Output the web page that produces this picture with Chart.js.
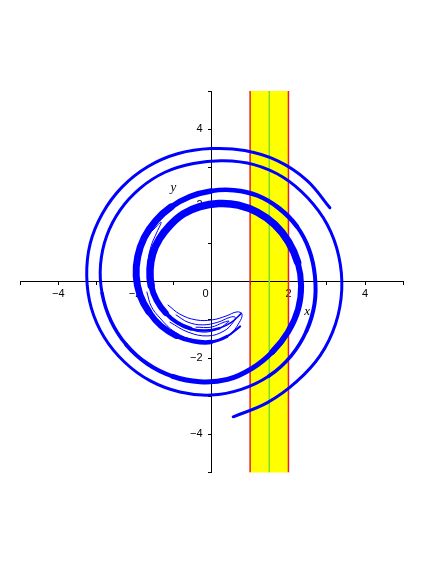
<!DOCTYPE html>
<html><head><meta charset="utf-8">
<script src="https://cdn.jsdelivr.net/npm/chart.js@4/dist/chart.umd.min.js"></script>
<style>html,body{margin:0;padding:0;background:#fff}#wrap{width:436px;height:564px;position:relative}</style>
</head><body><div id="wrap"><canvas id="c"></canvas></div>
<script>
// ---- data ----
const xRange = [-5, 5];
const yRange = [-5, 5];
const xTickValues = [-4, -2, 0, 2, 4];
const xTickLabels = ['\u22124', '\u22122', '0', '2', '4'];
const yTickValues = [-4, -2, 2, 4];
const yTickLabels = ['\u22124', '\u22122', '2', '4'];
const bandX = [1, 2];
const bandMid = [1.5];

// spiral strand whose outer end is at the upper right
const spiralA = [
  [3.08, 1.94], [2.48, 2.66], [1.72, 3.17], [0.86, 3.44], [-0.02, 3.49], [-0.87, 3.36],
  [-1.66, 3.02], [-2.34, 2.48], [-2.85, 1.79], [-3.17, 1.00], [-3.26, 0.15], [-3.14, -0.69],
  [-2.80, -1.46], [-2.27, -2.11], [-1.60, -2.60], [-0.83, -2.89], [-0.02, -2.97], [0.77, -2.82],
  [1.49, -2.47], [2.07, -1.94], [2.47, -1.29], [2.68, -0.58], [2.69, 0.15], [2.54, 0.84],
  [2.22, 1.45], [1.75, 1.93], [1.19, 2.26], [0.58, 2.40], [-0.02, 2.38], [-0.57, 2.23],
  [-1.06, 1.96], [-1.46, 1.60], [-1.76, 1.16], [-1.93, 0.66], [-1.97, 0.15], [-1.87, -0.35],
  [-1.64, -0.79], [-1.32, -1.16], [-0.92, -1.42], [-0.47, -1.56], [-0.02, -1.58], [0.40, -1.43],
  [0.74, -1.17]
];
// spiral strand whose outer end is at the bottom
const spiralB = [
  [0.56, -3.54], [1.45, -3.17], [2.21, -2.62], [2.83, -1.93], [3.23, -1.10], [3.39, -0.21],
  [3.31, 0.68], [3.01, 1.50], [2.50, 2.20], [1.86, 2.74], [1.10, 3.07], [0.30, 3.17],
  [-0.48, 3.10], [-1.22, 2.87], [-1.87, 2.45], [-2.39, 1.88], [-2.74, 1.20], [-2.90, 0.45],
  [-2.86, -0.30], [-2.63, -1.02], [-2.23, -1.65], [-1.68, -2.15], [-1.02, -2.48], [-0.31, -2.62],
  [0.41, -2.56], [1.05, -2.27], [1.58, -1.84], [1.99, -1.31], [2.25, -0.72], [2.33, -0.10],
  [2.24, 0.51], [2.00, 1.05], [1.64, 1.50], [1.19, 1.82], [0.69, 2.01], [0.18, 2.05],
  [-0.31, 1.97], [-0.74, 1.78], [-1.09, 1.48], [-1.36, 1.13], [-1.54, 0.74], [-1.61, 0.32],
  [-1.58, -0.10], [-1.44, -0.48], [-1.20, -0.82], [-0.90, -1.07], [-0.55, -1.23], [-0.17, -1.28],
  [0.20, -1.22], [0.52, -1.06], [0.77, -0.83]
];
// thin folded curves in the inner fan
const tongue1 = [
  [-1.69, -0.27], [-1.58, -0.64], [-1.35, -0.95], [-0.96, -1.32], [-0.44, -1.53], [0.09, -1.55],
  [0.48, -1.37], [0.71, -1.08], [0.79, -0.85], [0.66, -0.79], [0.37, -0.90], [0.01, -1.00],
  [-0.41, -1.00], [-0.83, -0.85], [-1.14, -0.61]
];
const tongue2 = [
  [-1.09, -1.06], [-0.62, -1.32], [-0.10, -1.42], [0.32, -1.29], [0.56, -1.06], [0.61, -0.93],
  [0.48, -0.93], [0.16, -1.06], [-0.23, -1.13], [-0.62, -1.06], [-0.93, -0.87]
];
const tongue3 = [
  [-0.70, -1.21], [-0.23, -1.32], [0.16, -1.24], [0.40, -1.08], [0.45, -1.03], [0.32, -1.06],
  [-0.02, -1.19], [-0.41, -1.19]
];
const tongue4 = [
  [-1.87, -0.27], [-1.92, 0.31], [-1.84, 0.83], [-1.66, 1.20], [-1.48, 1.41], [-1.32, 1.56],
  [-1.43, 1.30], [-1.58, 0.94], [-1.66, 0.52], [-1.66, 0.04]
];

// ---- styling ----
const BLUE = '#0000ff';
const widthStepsA = [[0, 3], [18, 3.5], [20, 4], [24, 4.5], [28, 5.5], [30, 7], [36, 6], [38, 4.5], [40, 3], [41, 2]];
const widthStepsB = [[0, 3], [18, 3.5], [20, 4], [22, 5], [26, 6], [30, 7.5], [42, 6], [44, 4], [46, 2.5], [48, 1.5]];
function stepWidth(steps) {
  return ctx => { let w = steps[0][1]; for (const s of steps) if (ctx.p0DataIndex >= s[0]) w = s[1]; return w; };
}
const pts = arr => arr.map(p => ({x: p[0], y: p[1]}));
const vline = x => [{x: x, y: yRange[0]}, {x: x, y: yRange[1]}];

function spiralDs(arr, steps) {
  return {data: pts(arr), showLine: true, borderColor: BLUE, pointRadius: 0, tension: 0.4,
    borderCapStyle: 'round', borderJoinStyle: 'round', borderWidth: steps[0][1],
    segment: {borderWidth: stepWidth(steps)}, order: 0};
}
function thinDs(arr) {
  return {data: pts(arr), showLine: true, borderColor: BLUE, pointRadius: 0, tension: 0.4,
    borderWidth: 1, borderCapStyle: 'round', order: 0};
}

const bandPlugin = {
  id: 'band',
  beforeDraw(chart) {
    const {ctx, scales: {x, y}} = chart;
    ctx.save();
    ctx.fillStyle = '#ffffff';
    ctx.fillRect(0, 0, chart.width, chart.height);
    ctx.fillStyle = '#ffff00';
    const x0 = x.getPixelForValue(bandX[0]), x1 = x.getPixelForValue(bandX[1]);
    const y0 = y.getPixelForValue(yRange[1]), y1 = y.getPixelForValue(yRange[0]);
    ctx.fillRect(x0, y0, x1 - x0, y1 - y0);
    ctx.restore();
  }
};
const axisTitles = {
  id: 'axisTitles',
  afterDraw(chart) {
    const {ctx, scales: {x, y}} = chart;
    ctx.save();
    ctx.fillStyle = '#000';
    ctx.font = 'italic 13px "Liberation Serif"';
    ctx.textAlign = 'center';
    ctx.textBaseline = 'middle';
    ctx.fillText('x', x.getPixelForValue(2.49), y.getPixelForValue(-0.78));
    ctx.fillText('y', x.getPixelForValue(-1.0), y.getPixelForValue(2.48));
    ctx.restore();
  }
};

const tickFont = {family: '"Liberation Sans"', size: 11};

new Chart(document.getElementById('c'), {
  type: 'scatter',
  data: {
    datasets: [
      spiralDs(spiralA, widthStepsA),
      spiralDs(spiralB, widthStepsB),
      thinDs(tongue1), thinDs(tongue2), thinDs(tongue3), thinDs(tongue4),
      {data: vline(bandX[0]), showLine: true, borderColor: '#e8202a', borderWidth: 1.5, pointRadius: 0, order: 5},
      {data: vline(bandX[1]), showLine: true, borderColor: '#e8202a', borderWidth: 1.5, pointRadius: 0, order: 5},
      {data: vline(bandMid[0]), showLine: true, borderColor: '#78e028', borderWidth: 1.5, pointRadius: 0, order: 5}
    ]
  },
  options: {
    responsive: true, maintainAspectRatio: false, animation: false, events: [],
    devicePixelRatio: 1,
    layout: {padding: {left: 20, right: 32.5, top: 91, bottom: 91.5}},
    plugins: {legend: {display: false}, tooltip: {enabled: false}},
    scales: {
      x: {
        type: 'linear', min: xRange[0], max: xRange[1], position: {y: 0},
        grid: {display: true, drawOnChartArea: false, drawTicks: true, tickLength: 3, color: '#000'},
        border: {display: true, color: '#000', width: 1},
        ticks: {
          stepSize: 1, autoSkip: false, maxRotation: 0, padding: 3, color: '#000', font: tickFont,
          callback: v => { const i = xTickValues.indexOf(v); return i < 0 ? '' : (v === 0 ? xTickLabels[i] + '    ' : xTickLabels[i]); }
        }
      },
      y: {
        type: 'linear', min: yRange[0], max: yRange[1], position: {x: 0},
        grid: {display: true, drawOnChartArea: false, drawTicks: true, tickLength: 3, color: '#000'},
        border: {display: true, color: '#000', width: 1},
        ticks: {
          stepSize: 1, autoSkip: false, color: '#000', font: tickFont,
          callback: v => { const i = yTickValues.indexOf(v); return i < 0 ? '' : yTickLabels[i] + '   '; }
        }
      }
    }
  },
  plugins: [bandPlugin, axisTitles]
});
</script></body></html>
